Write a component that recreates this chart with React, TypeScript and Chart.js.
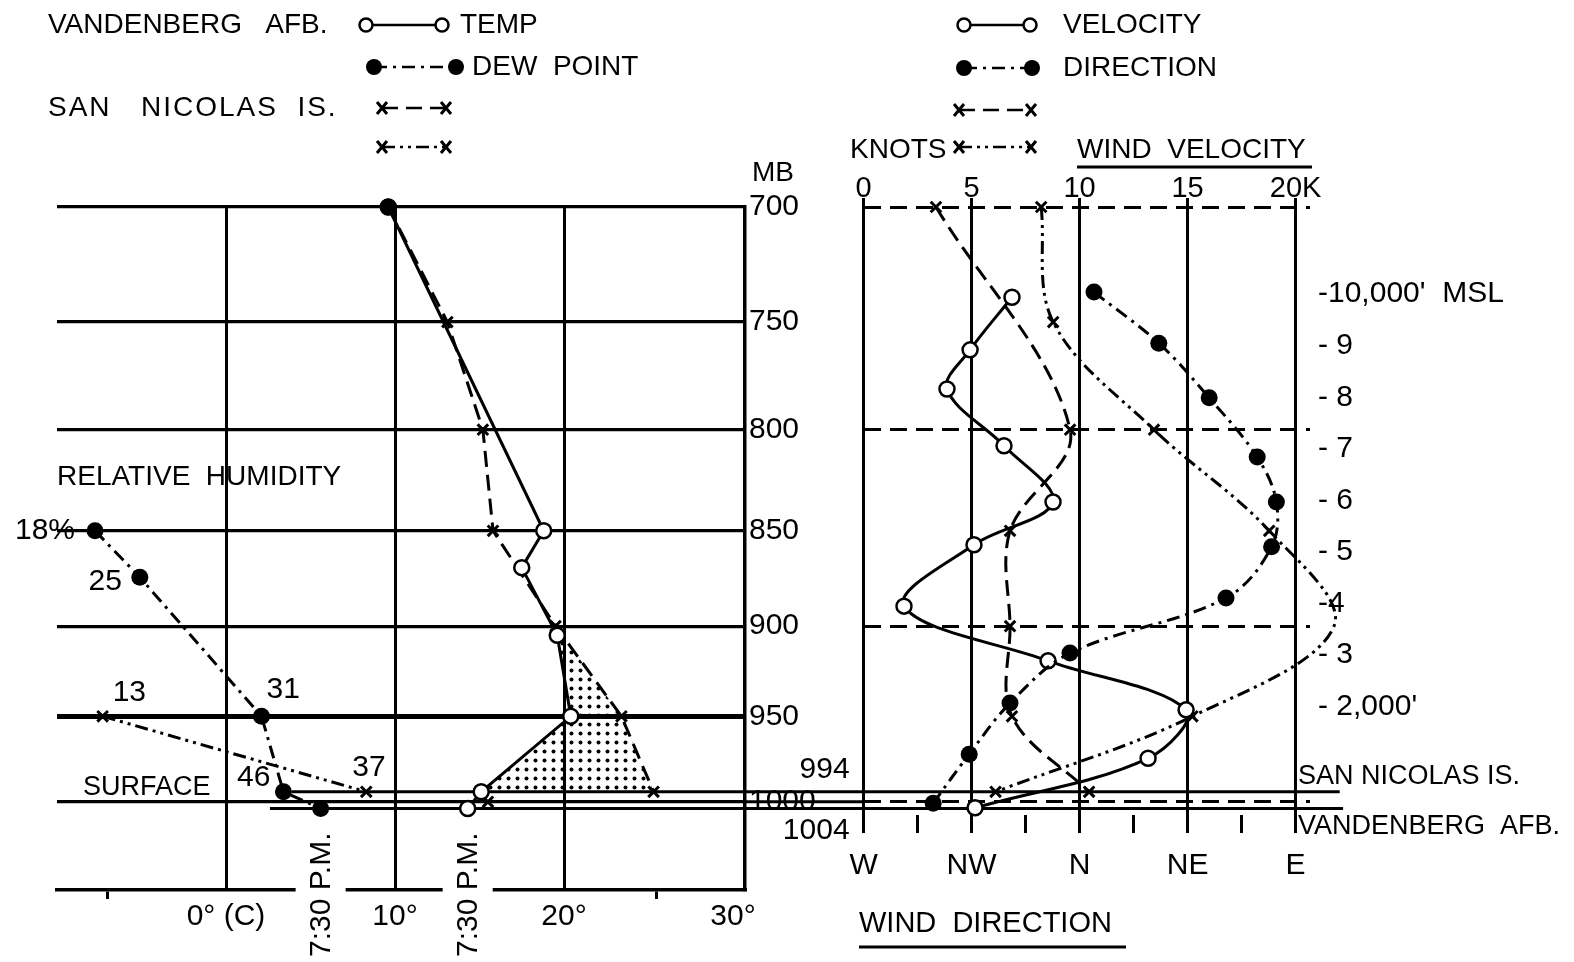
import React, { useEffect, useRef } from 'react';
import { Chart, registerables } from 'chart.js';

Chart.register(...registerables);

const CANVAS_W = 1574;
const CANVAS_H = 962;
const FONT_FAMILY = "'Liberation Sans', Arial, Helvetica, sans-serif";
const INK = '#000000';
const NONE = 'rgba(0,0,0,0)';

// ---------------- Left panel: temperature (°C) against pressure (mb) ----------------
const PRESSURE_TICKS = [700, 750, 800, 850, 900, 950, 1000];
const TEMP_TICKS = [-7, 0, 10, 20, 25.5, 30];
const TEMP_TICK_LABELS = ['', '0° (C)', '10°', '20°', '', '30°'];
const TEMP_GRID_VALUES = [0, 10, 20];
const TEMP_MARK_VALUES = [-7, 25.5];

const VAFB_TEMP_P = [700, 850, 869, 905, 950, 994, 1004];
const VAFB_TEMP_C = [9.6, 18.8, 17.5, 19.6, 20.4, 15.1, 14.3];
const VAFB_DEW_TOP_P = [700];
const VAFB_DEW_TOP_C = [9.6];
const VAFB_DEW_P = [850, 874, 950, 994, 1004];
const VAFB_DEW_C = [-7.75, -5.1, 2.1, 3.4, 5.6];
const VAFB_RH = ['18%', '25', '31', '46', ''];

const SNI_TEMP_P = [700, 750, 800, 850, 900, 950, 994];
const SNI_TEMP_C = [9.6, 13.1, 15.2, 15.8, 19.5, 23.4, 25.3];
const SNI_TEMP_LATE_P = [1000];
const SNI_TEMP_LATE_C = [15.5];
const SNI_DEW_P = [950, 994];
const SNI_DEW_C = [-7.3, 8.3];
const SNI_RH = ['13', '37'];

const SURFACE_SNI_MB = 994;
const SURFACE_STD_MB = 1000;
const SURFACE_VAFB_MB = 1004;
const SHADE_TOP_MB = 900;

// ---------------- Right panel: wind against altitude (1000 ft) / pressure ----------------
const KNOT_TICKS = [0, 5, 10, 15, 20];
const KNOT_LABELS = ['0', '5', '10', '15', '20K'];
const DIR_TICKS = [270, 292.5, 315, 337.5, 360, 382.5, 405, 427.5, 450];
const DIR_LABELS = ['W', '', 'NW', '', 'N', '', 'NE', '', 'E'];
const DIR_MAJOR = [270, 315, 360, 405, 450];
const ALT_TICKS = [2, 3, 4, 5, 6, 7, 8, 9, 10];
const ALT_LABELS = ["- 2,000'", '- 3', '-4', '- 5', '- 6', '- 7', '- 8', '- 9', "-10,000'  MSL"];
const WIND_P_TICKS = [700, 800, 900, 994, 1000, 1004];
const WIND_P_LABELS = ['', '', '', '994', '', '1004'];

const VAFB_VEL_ALT = [9.94, 8.92, 8.16, 7.06, 5.97, 5.14, 3.95, 2.89, 1.94, 1.0, 0.04];
const VAFB_VEL_KT = [6.87, 4.93, 3.86, 6.5, 8.77, 5.11, 1.87, 8.54, 14.93, 13.17, 5.16];
const VAFB_DIR_ALT = [10.04, 9.05, 7.99, 6.84, 5.97, 5.1, 4.11, 3.04, 2.07, 1.08, 0.13];
const VAFB_DIR_DEG = [6, 33, 54, 74, 82, 80, 61, 356, 331, 314, 299];

const SNI_VEL_P = [700, 800, 850, 900, 950, 994];
const SNI_VEL_KT = [3.35, 9.56, 6.78, 6.78, 6.87, 10.44];
const SNI_DIR_P = [700, 750, 800, 850, 900, 950, 994];
const SNI_DIR_DEG = [344, 349, 31, 79, 106, 47, 325];

// ---------------- layout / style (not data) ----------------
const L_PAD_LEFT = 57;
const L_AREA_RIGHT = 745;
const AREA_TOP = 207;
const L_AREA_BOTTOM = 890;
const TEMP_MIN = -10;
const TEMP_MAX = 30.71;
const P_MIN = 700;
const P_MAX_LEFT = 1054.3;
const SNI_SURFACE_LINE_C = [3.9, 65.9];
const VAFB_SURFACE_LINE_C = [2.6, 66.1];
const STD_SURFACE_BRIDGE_C = [30.71, 37.75];

const R_AREA_LEFT = 863.6;
const R_AREA_RIGHT = 1310;
const R_AREA_BOTTOM = 815;
const KNOT_MAX = 20.667;
const DIR_MIN = 270;
const DIR_PER_KNOT = 9;
const ALT_MIN = -0.1;
const ALT_MAX = 11.69;
const P_MAX_RIGHT = 1007.9;

const LINE_W = 3;
const GRID_W = 3;
const OPEN_R = 7.5;
const FILLED_R = 8.5;
const CROSS_R = 7.5;

const DASHED = [16, 8];
const DASH_DOT = [13, 6, 3, 6];
const DASH_DOT_DOT = [13, 5, 3, 5, 3, 5];

const RH_V_OFFSETS: [number, number, CanvasTextAlign][] = [
  [-20, 0, 'right'], [-18, 5, 'right'], [5, -27, 'left'], [-13, -14, 'right'],
];
const RH_S_OFFSETS: [number, number, CanvasTextAlign][] = [[10, -24, 'left'], [-14, -24, 'left']];
const LATE_LABEL_BOTTOM = 957;

const pts = (xs: number[], ys: number[]) => xs.map((x, i) => ({ x, y: ys[i] }));
const unwrap = (d: number) => (d < 180 ? d + 360 : d);
const fnt = (size: number) => `${size}px ${FONT_FAMILY}`;

function drawMark(ctx: CanvasRenderingContext2D, kind: string, x: number, y: number) {
  ctx.save();
  ctx.setLineDash([]);
  ctx.strokeStyle = INK;
  if (kind === 'open') {
    ctx.beginPath();
    ctx.arc(x, y, OPEN_R - 1, 0, Math.PI * 2);
    ctx.fillStyle = '#fff';
    ctx.fill();
    ctx.lineWidth = 2.5;
    ctx.stroke();
  } else if (kind === 'filled') {
    ctx.beginPath();
    ctx.arc(x, y, FILLED_R - 0.5, 0, Math.PI * 2);
    ctx.fillStyle = INK;
    ctx.fill();
  } else {
    ctx.lineWidth = 3;
    ctx.beginPath();
    ctx.moveTo(x - 5, y - 6);
    ctx.lineTo(x + 5, y + 6);
    ctx.moveTo(x + 5, y - 6);
    ctx.lineTo(x - 5, y + 6);
    ctx.stroke();
  }
  ctx.restore();
}

function legendSample(ctx: CanvasRenderingContext2D, x1: number, x2: number, y: number, dash: number[], kind: string) {
  ctx.save();
  ctx.strokeStyle = INK;
  ctx.lineWidth = 2.5;
  ctx.setLineDash(dash);
  ctx.beginPath();
  ctx.moveTo(x1, y);
  ctx.lineTo(x2, y);
  ctx.stroke();
  ctx.restore();
  drawMark(ctx, kind, x1, y);
  drawMark(ctx, kind, x2, y);
}

function makeStipple(): any {
  const c = document.createElement('canvas');
  c.width = 9;
  c.height = 9;
  const g = c.getContext('2d');
  if (!g) return 'rgba(0,0,0,0.35)';
  g.fillStyle = INK;
  g.beginPath();
  g.arc(4.5, 4.5, 2.0, 0, Math.PI * 2);
  g.fill();
  return g.createPattern(c, 'repeat') || 'rgba(0,0,0,0.35)';
}

const BASE_OPTIONS: any = {
  responsive: false,
  maintainAspectRatio: false,
  animation: false,
  devicePixelRatio: 1,
  events: [],
  plugins: { legend: { display: false }, tooltip: { enabled: false }, title: { display: false } },
};

function buildLeft(stipple: any): any {
  const shadeV = pts(VAFB_TEMP_C, VAFB_TEMP_P).filter((q) => q.y > SHADE_TOP_MB && q.y <= SURFACE_SNI_MB);
  const shadeS = pts(SNI_TEMP_C, SNI_TEMP_P).filter((q) => q.y >= SHADE_TOP_MB && q.y <= SURFACE_SNI_MB).reverse();
  const line = (extra: any) => ({ showLine: true, borderColor: INK, backgroundColor: INK, clip: false, tension: 0, borderWidth: LINE_W, ...extra });
  const cross = { pointStyle: 'crossRot', pointRadius: CROSS_R, pointBorderWidth: 3 };

  const datasets: any[] = [
    line({ label: 'shade', data: [...shadeV, ...shadeS], fill: 'shape', backgroundColor: stipple, borderColor: NONE, borderWidth: 0, pointRadius: 0, order: 20 }),
    line({ label: 'San Nicolas surface', data: [{ x: SNI_SURFACE_LINE_C[0], y: SURFACE_SNI_MB }, { x: SNI_SURFACE_LINE_C[1], y: SURFACE_SNI_MB }], pointRadius: 0, order: 15 }),
    line({ label: 'Vandenberg surface', data: [{ x: VAFB_SURFACE_LINE_C[0], y: SURFACE_VAFB_MB }, { x: VAFB_SURFACE_LINE_C[1], y: SURFACE_VAFB_MB }], pointRadius: 0, order: 15 }),
    line({ label: '1000 mb', data: [{ x: STD_SURFACE_BRIDGE_C[0], y: SURFACE_STD_MB }, { x: STD_SURFACE_BRIDGE_C[1], y: SURFACE_STD_MB }], pointRadius: 0, order: 15 }),
    line({ label: 'San Nicolas temp', data: pts(SNI_TEMP_C, SNI_TEMP_P), borderDash: DASHED, ...cross, order: 6 }),
    line({ label: 'San Nicolas temp 7:30', data: pts(SNI_TEMP_LATE_C, SNI_TEMP_LATE_P), showLine: false, ...cross, order: 6 }),
    line({ label: 'San Nicolas dew point', data: pts(SNI_DEW_C, SNI_DEW_P), borderDash: DASH_DOT_DOT, ...cross, order: 5 }),
    line({ label: 'Vandenberg temp', data: pts(VAFB_TEMP_C, VAFB_TEMP_P), pointStyle: 'circle', pointRadius: OPEN_R, pointBorderWidth: 2.5, pointBackgroundColor: '#fff', order: 4 }),
    line({ label: 'Vandenberg dew point', data: pts(VAFB_DEW_C, VAFB_DEW_P), borderDash: DASH_DOT, pointStyle: 'circle', pointRadius: FILLED_R, pointBorderWidth: 0, pointBackgroundColor: INK, order: 3 }),
    line({ label: 'Vandenberg dew point 700', data: pts(VAFB_DEW_TOP_C, VAFB_DEW_TOP_P), showLine: false, pointStyle: 'circle', pointRadius: FILLED_R, pointBorderWidth: 0, pointBackgroundColor: INK, order: 1 }),
  ];
  const IDX_SNI_DEW = 6;
  const IDX_VAFB_TEMP = 7;
  const IDX_VAFB_DEW = 8;

  const decor = {
    id: 'leftDecor',
    afterDraw(chart: any) {
      const ctx: CanvasRenderingContext2D = chart.ctx;
      ctx.save();
      ctx.fillStyle = INK;
      ctx.textBaseline = 'middle';
      ctx.textAlign = 'left';
      ctx.font = fnt(28);
      ctx.fillText('VANDENBERG   AFB.', 48, 25);
      legendSample(ctx, 366, 442, 25, [], 'open');
      ctx.fillText('TEMP', 460, 25);
      legendSample(ctx, 374, 456, 67, DASH_DOT, 'filled');
      ctx.fillText('DEW  POINT', 472, 67);
      (ctx as any).letterSpacing = '2px';
      ctx.fillText('SAN   NICOLAS  IS.', 48, 108);
      (ctx as any).letterSpacing = '0px';
      legendSample(ctx, 382, 446, 108, DASHED, 'cross');
      legendSample(ctx, 382, 446, 147, DASH_DOT_DOT, 'cross');
      ctx.fillText('MB', 752, 173);
      ctx.fillText('RELATIVE  HUMIDITY', 57, 477);
      ctx.font = fnt(27);
      ctx.fillText('SURFACE', 83, 788);

      // relative humidity annotations
      ctx.font = fnt(30);
      const dv = chart.getDatasetMeta(IDX_VAFB_DEW).data;
      VAFB_RH.forEach((t, i) => {
        if (!t || !dv[i] || !RH_V_OFFSETS[i]) return;
        const [dx, dy, al] = RH_V_OFFSETS[i];
        ctx.textAlign = al;
        ctx.fillText(t, dv[i].x + dx, dv[i].y + dy);
      });
      const ds = chart.getDatasetMeta(IDX_SNI_DEW).data;
      SNI_RH.forEach((t, i) => {
        if (!ds[i]) return;
        const [dx, dy, al] = RH_S_OFFSETS[i];
        ctx.textAlign = al;
        ctx.fillText(t, ds[i].x + dx, ds[i].y + dy);
      });

      // 7:30 P.M. vertical notes under the last Vandenberg observations
      const lastDew = dv[dv.length - 1];
      const tv = chart.getDatasetMeta(IDX_VAFB_TEMP).data;
      const lastTemp = tv[tv.length - 1];
      ctx.font = fnt(30);
      ctx.textAlign = 'left';
      [lastDew, lastTemp].forEach((el: any) => {
        if (!el) return;
        const w = ctx.measureText('7:30 P.M.').width;
        ctx.save();
        ctx.translate(el.x, LATE_LABEL_BOTTOM);
        ctx.rotate(-Math.PI / 2);
        ctx.fillStyle = '#fff';
        ctx.fillRect(-4, -25, w + 8, 50);
        ctx.fillStyle = INK;
        ctx.fillText('7:30 P.M.', 0, 1);
        ctx.restore();
      });
      ctx.restore();
    },
  };

  return {
    type: 'scatter',
    data: { datasets },
    plugins: [decor],
    options: {
      ...BASE_OPTIONS,
      layout: { padding: { left: L_PAD_LEFT, top: AREA_TOP, right: 0, bottom: 0 } },
      scales: {
        x: {
          type: 'linear',
          position: 'bottom',
          min: TEMP_MIN,
          max: TEMP_MAX,
          afterBuildTicks: (s: any) => { s.ticks = TEMP_TICKS.map((v) => ({ value: v })); },
          afterFit: (s: any) => { s.height = CANVAS_H - L_AREA_BOTTOM; },
          ticks: {
            autoSkip: false,
            maxRotation: 0,
            padding: 0,
            color: INK,
            font: { family: FONT_FAMILY, size: 30 },
            callback: (v: any) => { const i = TEMP_TICKS.indexOf(Number(v)); return i >= 0 ? TEMP_TICK_LABELS[i] : ''; },
          },
          grid: {
            color: (c: any) => (c.tick && TEMP_GRID_VALUES.includes(c.tick.value) ? INK : NONE),
            lineWidth: GRID_W,
            tickColor: (c: any) => (c.tick && TEMP_MARK_VALUES.includes(c.tick.value) ? INK : NONE),
            tickLength: 9,
            tickWidth: GRID_W,
          },
          border: { display: true, color: INK, width: 3.5 },
        },
        y: {
          type: 'logarithmic',
          position: 'right',
          reverse: true,
          min: P_MIN,
          max: P_MAX_LEFT,
          afterBuildTicks: (s: any) => { s.ticks = PRESSURE_TICKS.map((v) => ({ value: v })); },
          afterFit: (s: any) => { s.width = CANVAS_W - L_AREA_RIGHT; },
          ticks: {
            autoSkip: false,
            padding: 4,
            color: INK,
            font: { family: FONT_FAMILY, size: 30 },
            callback: (v: any) => String(v),
          },
          grid: {
            color: INK,
            lineWidth: (c: any) => (c.tick && c.tick.value === 950 ? 5 : 3.2),
            drawTicks: false,
          },
          border: { display: true, color: INK, width: 3.5 },
        },
      },
    },
  };
}

function buildRight(): any {
  const line = (extra: any) => ({ showLine: true, borderColor: INK, backgroundColor: INK, clip: false, tension: 0.35, capBezierPoints: false, borderWidth: LINE_W, ...extra });
  const cross = { pointStyle: 'crossRot', pointRadius: CROSS_R, pointBorderWidth: 3 };
  const datasets: any[] = [
    line({ label: 'Vandenberg velocity', xAxisID: 'x', yAxisID: 'yAlt', data: pts(VAFB_VEL_KT, VAFB_VEL_ALT), pointStyle: 'circle', pointRadius: OPEN_R, pointBorderWidth: 2.5, pointBackgroundColor: '#fff', order: 2 }),
    line({ label: 'Vandenberg direction', xAxisID: 'xDir', yAxisID: 'yAlt', data: pts(VAFB_DIR_DEG.map(unwrap), VAFB_DIR_ALT), borderDash: DASH_DOT, pointStyle: 'circle', pointRadius: FILLED_R, pointBorderWidth: 0, pointBackgroundColor: INK, order: 1 }),
    line({ label: 'San Nicolas velocity', xAxisID: 'x', yAxisID: 'yP', data: pts(SNI_VEL_KT, SNI_VEL_P), borderDash: DASHED, ...cross, order: 4 }),
    line({ label: 'San Nicolas direction', xAxisID: 'xDir', yAxisID: 'yP', data: pts(SNI_DIR_DEG.map(unwrap), SNI_DIR_P), borderDash: DASH_DOT_DOT, ...cross, order: 3 }),
  ];

  const decor = {
    id: 'rightDecor',
    afterDraw(chart: any) {
      const ctx: CanvasRenderingContext2D = chart.ctx;
      ctx.save();
      ctx.fillStyle = INK;
      ctx.strokeStyle = INK;
      ctx.textBaseline = 'middle';
      ctx.textAlign = 'left';
      ctx.font = fnt(28);
      legendSample(ctx, 964, 1030, 25, [], 'open');
      ctx.fillText('VELOCITY', 1063, 25);
      legendSample(ctx, 964, 1032, 68, DASH_DOT, 'filled');
      ctx.fillText('DIRECTION', 1063, 68);
      legendSample(ctx, 959, 1031, 110, DASHED, 'cross');
      ctx.fillText('KNOTS', 850, 150);
      legendSample(ctx, 959, 1031, 147, DASH_DOT_DOT, 'cross');
      ctx.fillText('WIND  VELOCITY', 1077, 150);
      ctx.lineWidth = 3;
      ctx.beginPath();
      ctx.moveTo(1077, 167);
      ctx.lineTo(1312, 167);
      ctx.stroke();
      ctx.font = fnt(29);
      ctx.fillText('WIND  DIRECTION', 859, 924);
      ctx.beginPath();
      ctx.moveTo(859, 947);
      ctx.lineTo(1126, 947);
      ctx.stroke();
      ctx.font = fnt(27);
      ctx.fillText('SAN NICOLAS IS.', 1298, 777);
      ctx.fillText('VANDENBERG  AFB.', 1298, 827);
      ctx.restore();
    },
  };

  return {
    type: 'scatter',
    data: { datasets },
    plugins: [decor],
    options: {
      ...BASE_OPTIONS,
      layout: { padding: { left: R_AREA_LEFT - 100, top: AREA_TOP - 60, right: CANVAS_W - R_AREA_RIGHT - 264, bottom: CANVAS_H - R_AREA_BOTTOM - 80 } },
      scales: {
        x: {
          type: 'linear',
          position: 'top',
          min: 0,
          max: KNOT_MAX,
          afterBuildTicks: (s: any) => { s.ticks = KNOT_TICKS.map((v) => ({ value: v })); },
          afterFit: (s: any) => { s.height = 60; },
          ticks: {
            autoSkip: false,
            maxRotation: 0,
            padding: -8,
            color: INK,
            font: { family: FONT_FAMILY, size: 29 },
            callback: (v: any) => { const i = KNOT_TICKS.indexOf(Number(v)); return i >= 0 ? KNOT_LABELS[i] : ''; },
          },
          grid: { drawOnChartArea: false, color: INK, tickColor: INK, tickLength: 9, tickWidth: GRID_W, lineWidth: GRID_W },
          border: { display: false },
        },
        xDir: {
          type: 'linear',
          position: 'bottom',
          min: DIR_MIN,
          max: DIR_MIN + DIR_PER_KNOT * KNOT_MAX,
          afterBuildTicks: (s: any) => { s.ticks = DIR_TICKS.map((v) => ({ value: v })); },
          afterFit: (s: any) => { s.height = 80; },
          ticks: {
            autoSkip: false,
            maxRotation: 0,
            padding: 15,
            color: INK,
            font: { family: FONT_FAMILY, size: 30 },
            callback: (v: any) => { const i = DIR_TICKS.indexOf(Number(v)); return i >= 0 ? DIR_LABELS[i] : ''; },
          },
          grid: {
            color: (c: any) => (c.tick && DIR_MAJOR.includes(c.tick.value) ? INK : NONE),
            lineWidth: GRID_W,
            tickColor: INK,
            tickLength: 18,
            tickWidth: GRID_W,
          },
          border: { display: false },
        },
        yAlt: {
          type: 'linear',
          position: 'right',
          min: ALT_MIN,
          max: ALT_MAX,
          afterBuildTicks: (s: any) => { s.ticks = ALT_TICKS.map((v) => ({ value: v })); },
          afterFit: (s: any) => { s.width = 264; },
          ticks: {
            autoSkip: false,
            padding: 8,
            color: INK,
            font: { family: FONT_FAMILY, size: 30 },
            callback: (v: any) => { const i = ALT_TICKS.indexOf(Number(v)); return i >= 0 ? ALT_LABELS[i] : ''; },
          },
          grid: { drawOnChartArea: false, drawTicks: false },
          border: { display: false },
        },
        yP: {
          type: 'logarithmic',
          position: 'left',
          reverse: true,
          min: P_MIN,
          max: P_MAX_RIGHT,
          afterBuildTicks: (s: any) => { s.ticks = WIND_P_TICKS.map((v) => ({ value: v })); },
          afterFit: (s: any) => { s.width = 100; },
          ticks: {
            autoSkip: false,
            padding: 14,
            color: INK,
            font: { family: FONT_FAMILY, size: 30, lineHeight: 1.45 },
            callback: (v: any) => {
              const i = WIND_P_TICKS.indexOf(Number(v));
              const t = i >= 0 ? WIND_P_LABELS[i] : '';
              if (!t) return '';
              return Number(v) < SURFACE_STD_MB ? [t, ' '] : [' ', t];
            },
          },
          grid: {
            color: (c: any) => (c.tick && (c.tick.value === SURFACE_SNI_MB || c.tick.value === SURFACE_VAFB_MB) ? NONE : INK),
            lineWidth: GRID_W,
            drawTicks: false,
          },
          border: { display: false, dash: [17, 9] },
        },
      },
    },
  };
}

export default function App() {
  const leftRef = useRef<HTMLCanvasElement>(null);
  const rightRef = useRef<HTMLCanvasElement>(null);

  useEffect(() => {
    if (!leftRef.current || !rightRef.current) return;
    const stipple = makeStipple();
    const left = new Chart(leftRef.current, buildLeft(stipple));
    const right = new Chart(rightRef.current, buildRight());
    return () => {
      left.destroy();
      right.destroy();
    };
  }, []);

  const cstyle: any = { position: 'absolute', left: 0, top: 0, width: CANVAS_W, height: CANVAS_H };
  return (
    <div style={{ position: 'absolute', left: 0, top: 0, width: CANVAS_W, height: CANVAS_H, background: '#fff', overflow: 'hidden' }}>
      <canvas ref={leftRef} width={CANVAS_W} height={CANVAS_H} style={cstyle} />
      <canvas ref={rightRef} width={CANVAS_W} height={CANVAS_H} style={cstyle} />
    </div>
  );
}
